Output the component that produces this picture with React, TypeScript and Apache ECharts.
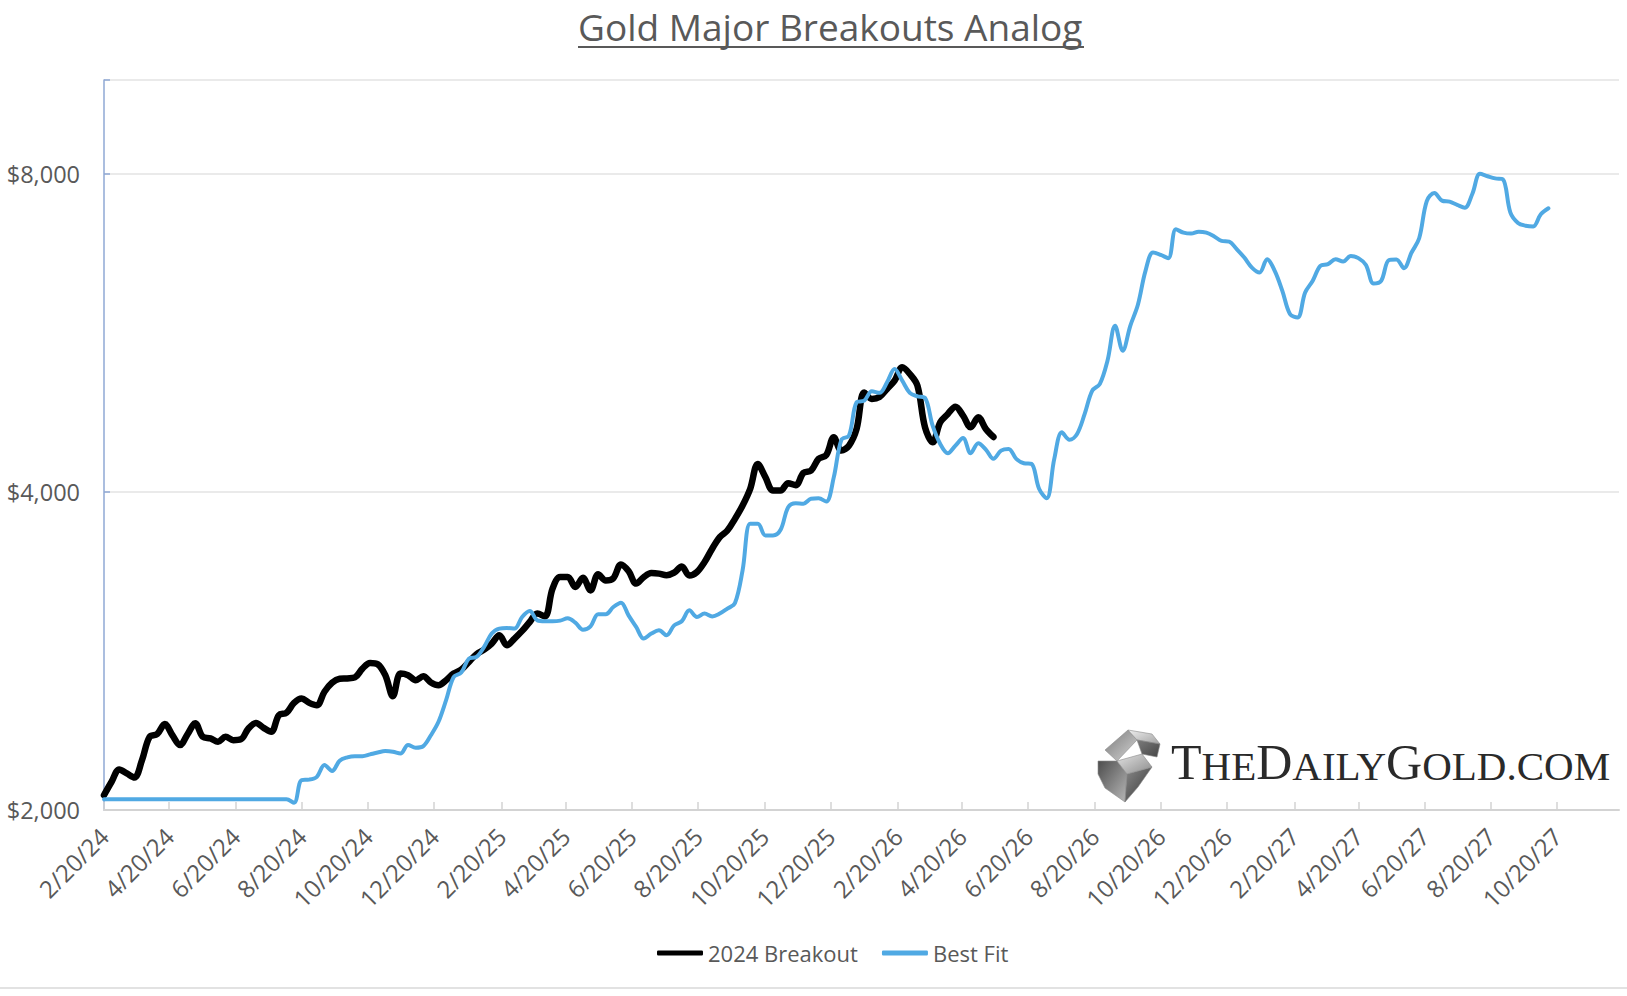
import React, { useEffect, useRef } from "react";
import * as echarts from "echarts";

const TITLE = "Gold Major Breakouts Analog";
const SERIES_NAMES = ["2024 Breakout", "Best Fit"];
const LOGO_PARTS = [
  ["big", "T"], ["small", "HE"], ["big", "D"], ["small", "AILY"],
  ["big", "G"], ["small", "OLD.COM"],
];

// weekly observations starting 2/20/24
const START = { y: 2024, m: 2, d: 20 };
const X_END = { y: 2027, m: 12, d: 16 };

const TICK_LABELS = [
  "2/20/24", "4/20/24", "6/20/24", "8/20/24", "10/20/24", "12/20/24",
  "2/20/25", "4/20/25", "6/20/25", "8/20/25", "10/20/25", "12/20/25",
  "2/20/26", "4/20/26", "6/20/26", "8/20/26", "10/20/26", "12/20/26",
  "2/20/27", "4/20/27", "6/20/27", "8/20/27", "10/20/27",
];

const Y_LABELS = [2000, 4000, 8000];
const Y_MIN = 2000;
const Y_MAX = 9820;

const BREAKOUT_2024 = [
  2066, 2127, 2185, 2166, 2147, 2230, 2346, 2360, 2412, 2354,
  2304, 2360, 2416, 2346, 2338, 2321, 2346, 2329, 2333, 2389,
  2418, 2392, 2372, 2459, 2472, 2526, 2550, 2526, 2513, 2588,
  2639, 2662, 2664, 2670, 2722, 2756, 2748, 2683, 2563, 2693,
  2683, 2654, 2677, 2641, 2625, 2654, 2693, 2716, 2762, 2809,
  2837, 2875, 2927, 2864, 2906, 2955, 3013, 3069, 3050, 3240,
  3323, 3323, 3252, 3318, 3228, 3343, 3299, 3315, 3416, 3367,
  3276, 3323, 3352, 3348, 3337, 3355, 3401, 3334, 3360, 3434,
  3535, 3626, 3678, 3773, 3884, 4028, 4253, 4132, 4013, 4013,
  4078, 4060, 4170, 4190, 4300, 4335, 4507, 4378, 4426, 4590,
  4970, 4900, 4920, 5008, 5099, 5249, 5174, 5044, 4606, 4458,
  4657, 4742, 4818, 4725, 4606, 4707, 4590, 4510,
];

const BEST_FIT = [
  2047, 2047, 2047, 2047, 2047, 2047, 2047, 2047, 2047, 2047,
  2047, 2047, 2047, 2047, 2047, 2047, 2047, 2047, 2047, 2047,
  2047, 2047, 2047, 2047, 2047, 2032, 2135, 2137, 2150, 2206,
  2178, 2227, 2243, 2249, 2249, 2258, 2267, 2274, 2271, 2262,
  2304, 2291, 2299, 2354, 2424, 2541, 2673, 2699, 2782, 2792,
  2854, 2938, 2970, 2974, 2970, 3046, 3086, 3024, 3018, 3018,
  3022, 3037, 3009, 2963, 2985, 3064, 3064, 3113, 3143, 3057,
  2981, 2906, 2938, 2959, 2927, 2991, 3018, 3091, 3046, 3069,
  3050, 3069, 3102, 3140, 3372, 3732, 3732, 3639, 3639, 3684,
  3870, 3904, 3900, 3941, 3945, 3918, 4132, 4482, 4524, 4864,
  4882, 4982, 4965, 5080, 5230, 5099, 4965, 4928, 4910, 4623,
  4442, 4353, 4426, 4500, 4353, 4449, 4388, 4300, 4378, 4394,
  4300, 4259, 4253, 4028, 3945, 4300, 4556, 4482, 4540, 4742,
  4989, 5063, 5325, 5747, 5443, 5747, 6016, 6478, 6742, 6708,
  6660, 7092, 7040, 7026, 7056, 7040, 6986, 6915, 6905, 6791,
  6668, 6524, 6454, 6644, 6478, 6202, 5896, 5852, 6180, 6339,
  6548, 6574, 6644, 6610, 6692, 6660, 6562, 6302, 6339, 6630,
  6640, 6516, 6742, 6955, 7543, 7676, 7550, 7532, 7479, 7435,
  7664, 8004, 7962, 7925, 7910, 7354, 7191, 7148, 7136, 7328,
  7424,
];

const FONT = "'Open Sans', 'Noto Sans', sans-serif";
const GREY_TEXT = "#595959";
const BLUE = "#50A9E3";

function weekTime(i: number): number {
  return new Date(START.y, START.m - 1, START.d + 7 * i).getTime();
}
function parseLabel(s: string): number {
  const [m, d, y] = s.split("/").map(Number);
  return new Date(2000 + y, m - 1, d).getTime();
}
function fmtDate(v: number): string {
  const d = new Date(v + 6 * 3600 * 1000);
  return `${d.getMonth() + 1}/${d.getDate()}/${String(d.getFullYear()).slice(2)}`;
}

// logo icon faces (local coordinates of the little ingot picture)
const LOGO_SHAPES: { pts: number[][]; c0: string; c1: string }[] = [
  { pts: [[1, 33], [20, 33], [30, 46], [28, 74], [8, 60], [1, 46]], c0: "#4d4d4d", c1: "#b8b8b8" },
  { pts: [[30, 46], [55, 39], [41, 59], [28, 74]], c0: "#8a8a8a", c1: "#353535" },
  { pts: [[20, 33], [45, 26], [55, 39], [30, 46]], c0: "#e2e2e2", c1: "#8c8c8c" },
  { pts: [[8, 22], [31, 2], [40, 12], [20, 33]], c0: "#7a7a7a", c1: "#d4d4d4" },
  { pts: [[31, 2], [55, 6], [63, 16], [40, 12]], c0: "#eeeeee", c1: "#a2a2a2" },
  { pts: [[40, 12], [63, 16], [60, 29], [45, 26]], c0: "#7c7c7c", c1: "#454545" },
];

export default function App() {
  const ref = useRef<HTMLDivElement>(null);

  useEffect(() => {
    document.body.style.margin = "0";
    if (!ref.current) return;
    const chart = echarts.init(ref.current, undefined, { renderer: "svg" });
    const tickVals = TICK_LABELS.map(parseLabel);
    const xMin = weekTime(0);
    const xMax = new Date(X_END.y, X_END.m - 1, X_END.d).getTime();

    const logoText = LOGO_PARTS.map(([k, t]) => `{${k}|${t}}`).join("");

    const option: any = {
      animation: false,
      backgroundColor: "#ffffff",
      grid: { left: 104, right: 8, top: 80, bottom: 186, containLabel: false },
      legend: {
        left: 657,
        top: 942,
        padding: 0,
        icon: "roundRect",
        itemWidth: 46,
        itemHeight: 5,
        itemGap: 24,
        textStyle: { fontSize: 22, color: GREY_TEXT, fontFamily: FONT },
        data: [
          { name: SERIES_NAMES[0], itemStyle: { color: "#000000" } },
          { name: SERIES_NAMES[1], itemStyle: { color: BLUE } },
        ],
      },
      xAxis: {
        type: "value",
        min: xMin,
        max: xMax,
        axisLine: { show: true, lineStyle: { color: "#D3D3D3", width: 2 } },
        axisTick: {
          show: true,
          inside: true,
          length: 8,
          customValues: tickVals,
          lineStyle: { color: "#D3D3D3", width: 1.5 },
        },
        axisLabel: {
          customValues: tickVals,
          rotate: 45,
          margin: 22,
          fontSize: 24,
          color: GREY_TEXT,
          fontFamily: FONT,
          formatter: (v: number) => fmtDate(v),
        },
        splitLine: { show: false },
      },
      yAxis: {
        type: "log",
        logBase: 2,
        min: Y_MIN,
        max: Y_MAX,
        axisLine: { show: true, lineStyle: { color: "#8FA8D4", width: 1.5 } },
        axisTick: {
          show: true,
          inside: true,
          length: 6,
          customValues: [4000, 8000, Y_MAX],
          lineStyle: { color: "#8FA8D4", width: 1.5 },
        },
        axisLabel: {
          customValues: Y_LABELS,
          margin: 24,
          fontSize: 23.5,
          color: GREY_TEXT,
          fontFamily: FONT,
          formatter: (v: number) => "$" + Math.round(v).toLocaleString("en-US"),
        },
        splitLine: { show: true, lineStyle: { color: "#E3E3E3", width: 1.5 } },
        minorTick: { show: false },
        minorSplitLine: { show: false },
      },
      series: [
        {
          name: SERIES_NAMES[0],
          type: "line",
          data: BREAKOUT_2024.map((v, i) => [weekTime(i), v]),
          symbol: "none",
          showSymbol: false,
          smooth: 0.35,
          lineStyle: { color: "#000000", width: 6.5, cap: "round", join: "round" },
          itemStyle: { color: "#000000" },
        },
        {
          name: SERIES_NAMES[1],
          type: "line",
          data: BEST_FIT.map((v, i) => [weekTime(i), v]),
          symbol: "none",
          showSymbol: false,
          smooth: 0.35,
          lineStyle: { color: BLUE, width: 4, cap: "round", join: "round" },
          itemStyle: { color: BLUE },
        },
      ],
      graphic: [
        {
          type: "text",
          left: 578,
          top: 8,
          style: {
            text: TITLE,
            fontSize: 37,
            fontFamily: FONT,
            fill: GREY_TEXT,
          },
        },
        {
          type: "line",
          shape: { x1: 578, y1: 47, x2: 1084, y2: 47 },
          style: { stroke: GREY_TEXT, lineWidth: 2 },
        },
        {
          type: "line",
          shape: { x1: 0, y1: 988, x2: 1627, y2: 988 },
          style: { stroke: "#D9D9D9", lineWidth: 1.5 },
        },
        {
          type: "text",
          x: 1171,
          y: 787,
          style: {
            text: logoText,
            fill: "#2a2a2a",
            verticalAlign: "bottom",
            rich: {
              big: { fontSize: 50, fontFamily: "'Liberation Serif', serif", fill: "#2a2a2a", verticalAlign: "bottom", lineHeight: 50 },
              small: { fontSize: 41, fontFamily: "'Liberation Serif', serif", fill: "#2a2a2a", verticalAlign: "bottom", lineHeight: 50, padding: [0, 0, 1, 0] },
            },
          },
        },
        {
          type: "group",
          x: 1097,
          y: 728,
          children: LOGO_SHAPES.map((s) => ({
            type: "polygon",
            shape: { points: s.pts },
            style: {
              fill: new echarts.graphic.LinearGradient(0, 0, 1, 1, [
                { offset: 0, color: s.c0 },
                { offset: 1, color: s.c1 },
              ]),
              stroke: "#8a8a8a",
              lineWidth: 0.6,
              lineJoin: "round",
            },
          })),
        },
      ],
    };

    chart.setOption(option);
    return () => chart.dispose();
  }, []);

  return <div ref={ref} style={{ width: 1627, height: 996 }} />;
}
